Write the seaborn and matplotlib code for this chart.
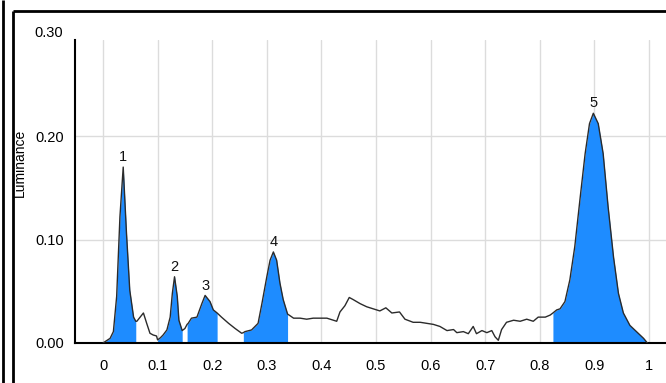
import numpy as np
import pandas as pd
import matplotlib
matplotlib.use("Agg")
import matplotlib.pyplot as plt
from matplotlib.lines import Line2D
import seaborn as sns

# Luminance histogram profile (position along the lane, luminance)
position = [
    0.000, 0.013, 0.019, 0.025, 0.031, 0.037, 0.043, 0.049, 0.056, 0.060,
    0.062, 0.068, 0.074, 0.080, 0.086, 0.092, 0.098, 0.100, 0.105, 0.110,
    0.117, 0.123, 0.127, 0.131, 0.136, 0.139, 0.145, 0.150, 0.154, 0.156,
    0.162, 0.172, 0.181, 0.187, 0.196, 0.202, 0.209, 0.217, 0.230, 0.242,
    0.254, 0.257, 0.260, 0.272, 0.284, 0.291, 0.300, 0.306, 0.312, 0.318,
    0.324, 0.330, 0.338, 0.349, 0.361, 0.373, 0.385, 0.397, 0.410, 0.422,
    0.428, 0.434, 0.443, 0.451, 0.458, 0.471, 0.483, 0.495, 0.507, 0.518,
    0.529, 0.543, 0.553, 0.568, 0.581, 0.593, 0.605, 0.617, 0.630, 0.642,
    0.648, 0.660, 0.669, 0.678, 0.684, 0.694, 0.703, 0.712, 0.718, 0.724,
    0.730, 0.739, 0.752, 0.764, 0.776, 0.788, 0.797, 0.810, 0.819, 0.824,
    0.831, 0.837, 0.846, 0.855, 0.864, 0.874, 0.883, 0.891, 0.898, 0.907,
    0.916, 0.925, 0.935, 0.944, 0.953, 0.965, 0.977, 0.990, 0.997,
]
luminance = [
    0.000, 0.0045, 0.011, 0.045, 0.122, 0.170, 0.106, 0.051, 0.025, 0.021,
    0.021, 0.025, 0.029, 0.019, 0.0094, 0.0077, 0.0068, 0.003, 0.005, 0.0077,
    0.0126, 0.025, 0.048, 0.064, 0.045, 0.022, 0.012, 0.014, 0.018, 0.019,
    0.024, 0.025, 0.038, 0.046, 0.040, 0.032, 0.029, 0.025, 0.019, 0.014,
    0.0094, 0.010, 0.011, 0.0126, 0.019, 0.038, 0.064, 0.080, 0.088, 0.080,
    0.058, 0.042, 0.028, 0.024, 0.024, 0.023, 0.024, 0.024, 0.024, 0.022,
    0.021, 0.030, 0.036, 0.044, 0.042, 0.038, 0.035, 0.033, 0.031, 0.034,
    0.029, 0.030, 0.023, 0.020, 0.020, 0.019, 0.018, 0.016, 0.012, 0.013,
    0.010, 0.011, 0.009, 0.016, 0.009, 0.012, 0.010, 0.012, 0.006, 0.0026,
    0.013, 0.020, 0.022, 0.021, 0.023, 0.021, 0.025, 0.025, 0.027, 0.029,
    0.032, 0.033, 0.040, 0.061, 0.093, 0.141, 0.183, 0.212, 0.222, 0.212,
    0.183, 0.132, 0.083, 0.048, 0.029, 0.017, 0.011, 0.0045, 0.000,
]

# Detected bands: start / end positions
band_start = [0.000, 0.100, 0.154, 0.257, 0.824]
band_end = [0.060, 0.145, 0.209, 0.338, 0.997]
band_labels = ["1", "2", "3", "4", "5"]

x_ticks = [0, 0.1, 0.2, 0.3, 0.4, 0.5, 0.6, 0.7, 0.8, 0.9, 1.0]
x_tick_labels = ["0", "0.1", "0.2", "0.3", "0.4", "0.5", "0.6", "0.7", "0.8", "0.9", "1"]
y_ticks = [0.0, 0.1, 0.2]
y_tick_labels = ["0.00", "0.10", "0.20"]

df = pd.DataFrame({"position": position, "luminance": luminance})

sns.set_theme(style="white")
plt.rcParams["font.family"] = ["Liberation Sans", "DejaVu Sans"]

FS = 10.5
W, H = 666, 383
fig = plt.figure(figsize=(W / 100, H / 100), dpi=100)
ax_left, ax_bottom, ax_top = 75, 343, 40
ax = fig.add_axes([ax_left / W, (H - ax_bottom) / H,
                   (W - ax_left) / W, (ax_bottom - ax_top) / H])

BLUE = "#1e8cff"
x = df["position"].to_numpy()
y = df["luminance"].to_numpy()
for lo, hi in zip(band_start, band_end):
    mask = (x >= lo - 1e-9) & (x <= hi + 1e-9)
    ax.fill_between(x, 0, y, where=mask, color=BLUE, linewidth=0, zorder=2)

sns.lineplot(data=df, x="position", y="luminance", ax=ax, color="#2b2b2b",
             linewidth=1.0, zorder=3)

# Band numbers above each peak
for lo, hi, lab in zip(band_start, band_end, band_labels):
    mask = (x >= lo) & (x <= hi)
    i = np.argmax(np.where(mask, y, -1))
    ax.annotate(lab, xy=(x[i], y[i]), xytext=(0, 2), textcoords="offset points",
                ha="center", va="bottom", fontsize=FS, color="#111111", zorder=4)

ax.set_xlim(-0.0513, 1.0311)
ax.set_ylim(0, 0.2928)
ax.set_xticks(x_ticks)
ax.set_xticklabels(x_tick_labels)
ax.set_yticks(y_ticks)
ax.set_yticklabels(y_tick_labels)
ax.tick_params(axis="x", direction="inout", length=8.5, width=1.5, pad=7.5,
               labelsize=FS, colors="black")
ax.tick_params(axis="y", direction="inout", length=9.5, width=1.5, pad=3,
               labelsize=FS, colors="black")
ax.grid(True, color="#dcdcdc", linewidth=1.0, zorder=0)
ax.set_axisbelow(True)
for side in ("top", "right"):
    ax.spines[side].set_visible(False)
for side in ("left", "bottom"):
    ax.spines[side].set_color("black")
    ax.spines[side].set_linewidth(1.5)

ax.set_xlabel("")
ax.set_ylabel("Luminance", fontsize=10, color="black")
ax.yaxis.set_label_coords((27 - ax_left) / (W - ax_left),
                          (ax_bottom - 163) / (ax_bottom - ax_top))
ax.text(-12 / (W - ax_left), 0.30, "0.30", transform=ax.get_yaxis_transform(),
        ha="right", va="center", fontsize=FS, color="black", clip_on=False)

# Panel frames
def px_line(xs, ys, lw=2.0):
    fig.add_artist(Line2D([v / W for v in xs], [1 - v / H for v in ys],
                          transform=fig.transFigure, color="black",
                          linewidth=lw, solid_capstyle="butt"))

px_line([2.5, 2.5], [0, H])
px_line([12.5, 12.5], [10.5, H])
px_line([12.5, W], [10.5, 10.5])

fig.savefig("out.png", dpi=100, facecolor="white")
